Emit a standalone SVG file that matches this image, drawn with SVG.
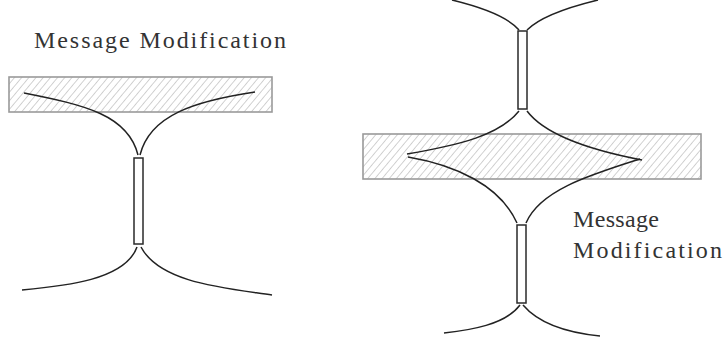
<svg xmlns="http://www.w3.org/2000/svg" width="726" height="345" viewBox="0 0 726 345">
<defs>
<pattern id="hatch" patternUnits="userSpaceOnUse" width="5.5" height="7" patternTransform="rotate(40)">
<line x1="0" y1="-1" x2="0" y2="8" stroke="#969696" stroke-width="0.9"/>
</pattern>
</defs>
<style>
.barrier{fill:url(#hatch);stroke:#9a9a9a;stroke-width:1.6}
.gap{fill:#fff;stroke:#2a2a2a;stroke-width:1.5}
.curve{fill:none;stroke:#222;stroke-width:1.5}
.lbl{font-family:"Liberation Serif","Times New Roman",serif;font-size:24px;fill:#333}
</style>
<rect width="726" height="345" fill="#fff"/>
<g id="left-barrier"><rect class="barrier" x="9" y="77" width="263" height="35"/></g>
<g id="left-gap"><rect class="gap" x="134" y="158" width="9" height="86"/></g>
<g id="right-barrier"><rect class="barrier" x="363" y="134" width="338" height="45"/></g>
<g id="right-gap-top"><rect class="gap" x="518" y="31" width="9" height="78"/></g>
<g id="right-gap-bottom"><rect class="gap" x="517" y="225" width="9" height="78"/></g>
<g id="connectors">
<path class="curve" d="M24,93 C85,105 128,115 138,155"/>
<path class="curve" d="M255,92 C195,101 150,115 140,155"/>
<path class="curve" d="M137,247 C125,280 65,286 22,290"/>
<path class="curve" d="M141,247 C160,283 225,288 272,295"/>
<path class="curve" d="M452,0 C485,8 508,17 519,30"/>
<path class="curve" d="M598,0 C565,8 540,17 527,30"/>
<path class="curve" d="M519,111 C500,135 460,145 407,154"/>
<path class="curve" d="M527,111 C545,135 590,150 642,160"/>
<path class="curve" d="M408,157 C455,165 500,185 517,223"/>
<path class="curve" d="M640,159 C590,175 540,190 526,223"/>
<path class="curve" d="M520,305 C505,325 470,330 444,333"/>
<path class="curve" d="M523,305 C540,325 570,333 600,336"/>
</g>
<g id="labels">
<text class="lbl" x="34" y="48" textLength="252" lengthAdjust="spacing">Message Modification</text>
<text class="lbl" x="573" y="227" textLength="86" lengthAdjust="spacing">Message</text>
<text class="lbl" x="573" y="258" textLength="149" lengthAdjust="spacing">Modification</text>
</g>
</svg>
